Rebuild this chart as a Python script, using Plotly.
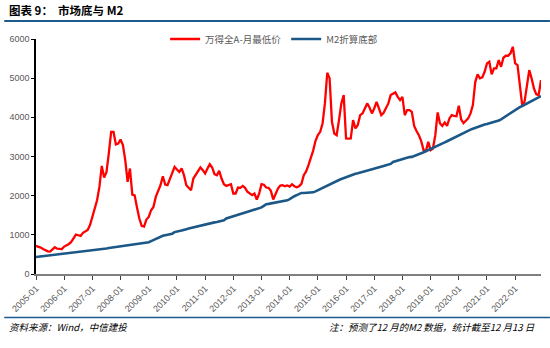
import pandas as pd
import plotly.graph_objects as go

# ---- data ----
months = [p.strftime("%Y-%m") for p in pd.period_range("2005-01", "2022-12", freq="M")]
tick_labels = [f"{y}-01" for y in range(2005, 2023)]

wind_all_a_min = [
    716, 700, 675, 640, 606, 580, 572, 640, 682, 645, 639, 635,
    700, 726, 767, 820, 900, 1007, 990, 971, 1050, 1100, 1125, 1250,
    1450, 1700, 1884, 2224, 2761, 2464, 2600, 3077, 3630, 3630, 3307, 3330,
    3435, 3290, 2906, 2352, 2694, 2029, 2010, 1700, 1416, 1230, 1210, 1390,
    1457, 1628, 1713, 1968, 2139, 2267, 2497, 2285, 2267, 2413, 2582, 2735,
    2668, 2607, 2694, 2523, 2267, 2198, 2139, 2438, 2523, 2625, 2720, 2651,
    2566, 2694, 2804, 2720, 2548, 2523, 2633, 2438, 2293, 2250, 2267, 2293,
    2055, 2055, 2208, 2200, 2250, 2200, 2100, 2055, 2012, 2055, 1900, 2050,
    2293, 2280, 2208, 2200, 2122, 1901, 2055, 2182, 2259, 2267, 2242, 2260,
    2233, 2293, 2242, 2216, 2242, 2300, 2523, 2620, 2778, 2950, 3150, 3400,
    3550, 3630, 3844, 4355, 5138, 4994, 3885, 3588, 3545, 3929, 4355, 4568,
    3461, 3455, 3461, 3929, 3716, 3801, 4056, 4100, 4210, 4355, 4253, 4100,
    4227, 4396, 4227, 4056, 4116, 4227, 4355, 4568, 4600, 4636, 4524, 4440,
    4524, 4056, 4184, 4184, 4141, 3780, 3650, 3545, 3392, 3162, 3140, 3374,
    3162, 3205, 3545, 4125, 3844, 3783, 3870, 3783, 3972, 4056, 4040, 4030,
    4295, 3950, 3850, 3903, 3972, 4100, 4312, 4900, 5096, 4994, 5020, 5163,
    5377, 5419, 5096, 5249, 5249, 5462, 5291, 5521, 5572, 5572, 5633, 5802,
    5377, 5335, 4739, 4312, 4400, 4750, 5206, 4994, 4739, 4585, 4568, 4951,
]

m2_bottom = [
    435, 442, 448, 455, 461, 468, 475, 481, 488, 494, 501, 508,
    514, 521, 527, 534, 541, 547, 554, 560, 567, 573, 580, 590,
    599, 608, 617, 626, 635, 644, 653, 662, 671, 680, 690, 699,
    708, 717, 726, 735, 744, 753, 759, 765, 771, 777, 783, 790,
    810, 840, 870, 900, 930, 955, 975, 990, 1000, 1005, 1030, 1070,
    1091, 1100, 1110, 1134, 1145, 1160, 1175, 1190, 1201, 1220, 1240, 1262,
    1270, 1280, 1290, 1305, 1318, 1329, 1340, 1350, 1373, 1417, 1436, 1455,
    1474, 1493, 1512, 1530, 1545, 1560, 1577, 1594, 1611, 1628, 1645, 1665,
    1700, 1740, 1781, 1790, 1800, 1810, 1820, 1830, 1840, 1850, 1865, 1880,
    1910, 1953, 1985, 2015, 2045, 2070, 2070, 2070, 2070, 2072, 2085, 2110,
    2139, 2165, 2198, 2230, 2265, 2300, 2330, 2360, 2380, 2400, 2425, 2450,
    2475, 2500, 2523, 2540, 2560, 2575, 2590, 2605, 2620, 2635, 2651, 2665,
    2680, 2700, 2715, 2730, 2760, 2778, 2795, 2810, 2860, 2880, 2900, 2924,
    2940, 2955, 2970, 2985, 2991, 3010, 3030, 3060, 3085, 3110, 3136, 3160,
    3185, 3215, 3245, 3280, 3307, 3330, 3360, 3390, 3420, 3461, 3485, 3510,
    3540, 3570, 3600, 3630, 3660, 3685, 3710, 3735, 3760, 3783, 3800, 3815,
    3830, 3845, 3860, 3875, 3895, 3920, 3950, 3990, 4040, 4065, 4100, 4140,
    4180, 4220, 4260, 4290, 4320, 4350, 4380, 4410, 4440, 4465, 4515, 4542,
]

# ---- layout geometry (pixels) ----
W, H = 550, 348
L, R, T, B = 32, 9, 39, 74
PW, PH = W - L - R, H - T - B


def px_x(x):
    return (x - L) / PW


def px_y(y):
    return (H - B - y) / PH


fig = go.Figure()
fig.add_trace(go.Scatter(
    x=months, y=wind_all_a_min, mode="lines", name="万得全A-月最低价",
    line=dict(color="#FF0000", width=2.3),
))
fig.add_trace(go.Scatter(
    x=months, y=m2_bottom, mode="lines", name="M2折算底部",
    line=dict(color="#1B5887", width=2.6),
))

tick_font = dict(family="Liberation Sans, Arial, sans-serif", size=9, color="#595959")

fig.update_layout(
    width=W, height=H,
    margin=dict(l=L, r=R, t=T, b=B, pad=0),
    paper_bgcolor="white", plot_bgcolor="white",
    showlegend=True,
    legend=dict(
        orientation="h", x=px_x(272), xanchor="center", y=px_y(39), yanchor="middle",
        font=dict(family="Noto Sans CJK SC, sans-serif", size=9.5, color="#595959"),
        bgcolor="rgba(0,0,0,0)", itemwidth=30, tracegroupgap=0,
    ),
    xaxis=dict(
        type="category", range=[0, len(months) - 1],
        tickmode="array", tickvals=tick_labels, ticktext=tick_labels,
        tickangle=-45, tickfont=tick_font,
        ticks="outside", ticklen=4, tickcolor="#404040", tickwidth=1,
        showline=True, linecolor="#7F7F7F", linewidth=1.5,
        showgrid=False, zeroline=False,
    ),
    yaxis=dict(
        range=[0, 6000], tickvals=[0, 1000, 2000, 3000, 4000, 5000, 6000],
        tickfont=tick_font,
        ticks="outside", ticklen=3, tickcolor="#000000", tickwidth=1,
        showline=True, linecolor="#000000", linewidth=1.5,
        showgrid=False, zeroline=False,
    ),
)

# title and rules
fig.add_annotation(
    x=px_x(3), y=px_y(10), xref="paper", yref="paper", xanchor="left", yanchor="middle",
    text="<b>图表 9：  市场底与 M2</b>", showarrow=False,
    font=dict(family="Noto Sans CJK SC, sans-serif", size=11.5, color="#000000"),
)
fig.add_shape(type="line", xref="paper", yref="paper",
              x0=px_x(0), x1=px_x(W), y0=px_y(21), y1=px_y(21),
              line=dict(color="#1F5A8C", width=2))
fig.add_shape(type="line", xref="paper", yref="paper",
              x0=px_x(0), x1=px_x(W), y0=px_y(317.5), y1=px_y(317.5),
              line=dict(color="#1F5A8C", width=1.5))
fig.add_annotation(
    x=px_x(3), y=px_y(327), xref="paper", yref="paper", xanchor="left", yanchor="middle",
    text="资料来源：Wind，中信建投", showarrow=False,
    font=dict(family="Noto Sans CJK SC, sans-serif", size=9.5, color="#000000", style="italic"),
)
fig.add_annotation(
    x=px_x(537), y=px_y(327), xref="paper", yref="paper", xanchor="right", yanchor="middle",
    text="注：预测了12 月的M2 数据，统计截至12 月13 日", showarrow=False,
    font=dict(family="Noto Sans CJK SC, sans-serif", size=9.5, color="#000000", style="italic"),
)

fig.write_html("out.html")
